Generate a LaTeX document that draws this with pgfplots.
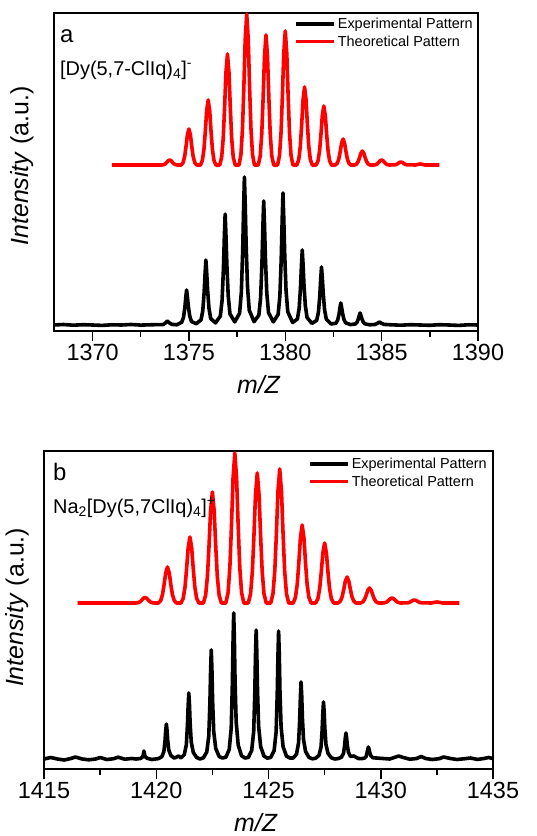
\documentclass[border=0pt]{standalone}
\usepackage{fontspec}
\setmainfont{Liberation Sans}
\usepackage{pgfplots}
\pgfplotsset{compat=1.18}

\definecolor{thred}{RGB}{255,0,0}

\pgfplotsset{
  msplot/.style={
    scale only axis,
    ymin=0, ymax=318,
    ytick=\empty,
    tick align=outside,
    xtick pos=left,
    major tick length=10bp,
    minor tick length=6bp,
    every tick/.style={black, line width=1.5bp},
    axis line style={line width=1.8bp},
    /pgf/number format/assume math mode=true,
    /pgf/number format/1000 sep={},
    tick label style={font=\fontsize{23.5}{28}\selectfont},
    label style={font=\fontsize{25}{30}\selectfont},
    xlabel={\textit{m/Z}},
    ylabel={\textit{Intensity} (a.u.)},
    legend cell align=left,
    legend image code/.code={\draw[#1] (0bp,0bp) -- (38bp,0bp);},
    legend style={draw=none, fill=none, inner sep=0pt,
      font=\fontsize{14.5}{17}\selectfont, anchor=north east,
      nodes={inner sep=2.5bp}, row sep=0.5bp},
  },
  exp/.style={black, line width=3.6bp, line join=round},
  theo/.style={thred, line width=3.6bp, line join=round},
}

\begin{document}
\begin{tikzpicture}
\useasboundingbox (0,0) rectangle (537bp,836bp);

% ---------- panel a ----------
\begin{axis}[msplot,
    at={(54bp,505bp)}, anchor=south west,
    width=424bp, height=318bp,
    xmin=1368, xmax=1390,
    xtick={1370,1375,1380,1385,1390},
    minor xtick={1372.5,1377.5,1382.5,1387.5},
    xlabel style={at={(axis description cs:0.483,-0.167)}, anchor=center},
    ylabel style={at={(axis description cs:-0.0755,0.519)}, anchor=center},
    legend style={at={(axis description cs:0.994,0.992)}},
  ]
\addplot[exp] coordinates {
 (1368,6) (1368.5,6.5) (1369,5.8) (1369.5,6.3) (1370,6) (1370.5,5.6) (1371,6.2)
 (1371.5,6) (1372,6.5) (1372.5,5.9) (1373,6.2) (1373.4,6.4)
 (1373.65,6.3) (1373.78,8) (1373.88,10) (1373.98,8.2) (1374.12,6.6) (1374.38,6.2)
 (1374.63,8.8) (1374.72,13.7) (1374.79,23.5) (1374.84,34) (1374.88,41) (1374.92,34.7) (1374.97,24.9) (1375.04,15.1) (1375.13,9.5)
 (1375.38,7.2)
 (1375.63,11.2) (1375.72,20.3) (1375.79,38.5) (1375.84,58) (1375.88,71) (1375.92,59.3) (1375.97,41.1) (1376.04,22.9) (1376.13,12.5)
 (1376.38,8.1)
 (1376.63,14.9) (1376.72,30.4) (1376.79,61.5) (1376.84,94.8) (1376.88,117) (1376.92,97) (1376.97,65.9) (1377.04,34.9) (1377.13,17.1)
 (1377.38,9.1)
 (1377.63,17.8) (1377.72,38.6) (1377.79,80) (1377.84,124.4) (1377.88,154) (1377.92,127.4) (1377.97,85.9) (1378.04,44.5) (1378.13,20.8)
 (1378.38,9.3)
 (1378.63,15.9) (1378.72,33.3) (1378.79,68) (1378.84,105.2) (1378.88,130) (1378.92,107.7) (1378.97,73) (1379.04,38.2) (1379.13,18.4)
 (1379.38,9.1)
 (1379.63,16.6) (1379.72,35) (1379.79,72) (1379.84,111.6) (1379.88,138) (1379.92,114.2) (1379.97,77.3) (1380.04,40.3) (1380.13,19.2)
 (1380.38,8.5)
 (1380.63,12) (1380.72,22.5) (1380.79,43.5) (1380.84,66) (1380.88,81) (1380.92,67.5) (1380.97,46.5) (1381.04,25.5) (1381.13,13.5)
 (1381.38,7.6)
 (1381.63,10.6) (1381.72,18.8) (1381.79,35) (1381.84,52.4) (1381.88,64) (1381.92,53.6) (1381.97,37.3) (1382.04,21.1) (1382.13,11.8)
 (1382.38,7)
 (1382.63,7.8) (1382.72,10.8) (1382.79,17) (1382.84,23.6) (1382.88,28) (1382.92,24) (1382.97,17.9) (1383.04,11.7) (1383.13,8.2)
 (1383.38,6.4)
 (1383.63,7) (1383.72,8.6) (1383.79,12) (1383.84,15.6) (1383.88,18) (1383.92,15.8) (1383.97,12.5) (1384.04,9.1) (1384.13,7.2)
 (1384.38,6.2)
 (1384.65,6.5) (1384.78,7.6) (1384.88,9) (1384.98,7.8) (1385.12,6.6)
 (1385.5,6.2) (1386,5.8) (1386.5,6.3) (1387,6) (1387.5,5.7) (1388,6.3) (1388.5,6)
 (1389,5.6) (1389.5,6.2) (1390,6)
};
\addlegendentry{Experimental Pattern}
\addplot[theo] coordinates {
 (1371,166) (1373.6,166)
 (1373.7,166.4) (1373.78,167.2) (1373.85,168.6) (1373.92,170.2) (1374,171) (1374.08,170.2) (1374.15,168.6) (1374.22,167.2) (1374.3,166.4) (1374.4,166)
 (1374.6,166) (1374.7,168.5) (1374.78,174.6) (1374.85,184.4) (1374.92,195.9) (1375,202) (1375.08,195.9) (1375.15,184.4) (1375.22,174.6) (1375.3,168.5) (1375.4,166)
 (1375.6,166) (1375.7,170.6) (1375.78,181.6) (1375.85,199.2) (1375.92,220) (1376,231) (1376.08,220) (1376.15,199.2) (1376.22,181.6) (1376.3,170.6) (1376.4,166)
 (1376.6,166) (1376.7,173.8) (1376.78,192.6) (1376.85,222.6) (1376.92,258.1) (1377,277) (1377.08,258.1) (1377.15,222.6) (1377.22,192.6) (1377.3,173.8) (1377.4,166)
 (1377.6,166) (1377.7,176.6) (1377.78,202.2) (1377.85,243) (1377.92,291.3) (1378,317) (1378.08,291.3) (1378.15,243) (1378.22,202.2) (1378.3,176.6) (1378.4,166)
 (1378.6,166) (1378.7,175.1) (1378.78,197.2) (1378.85,232.3) (1378.92,273.9) (1379,296) (1379.08,273.9) (1379.15,232.3) (1379.22,197.2) (1379.3,175.1) (1379.4,166)
 (1379.6,166) (1379.7,175.4) (1379.78,198.2) (1379.85,234.3) (1379.92,277.2) (1380,300) (1380.08,277.2) (1380.15,234.3) (1380.22,198.2) (1380.3,175.4) (1380.4,166)
 (1380.6,166) (1380.7,171.5) (1380.78,184.7) (1380.85,205.8) (1380.92,230.7) (1381,244) (1381.08,230.7) (1381.15,205.8) (1381.22,184.7) (1381.3,171.5) (1381.4,166)
 (1381.6,166) (1381.7,170.1) (1381.78,180.2) (1381.85,196.1) (1381.92,215) (1382,225) (1382.08,215) (1382.15,196.1) (1382.22,180.2) (1382.3,170.1) (1382.4,166)
 (1382.6,166) (1382.7,167.8) (1382.78,172.2) (1382.85,179.3) (1382.92,187.6) (1383,192) (1383.08,187.6) (1383.15,179.3) (1383.22,172.2) (1383.3,167.8) (1383.4,166)
 (1383.6,166) (1383.7,167) (1383.78,169.4) (1383.85,173.1) (1383.92,177.6) (1384,180) (1384.08,177.6) (1384.15,173.1) (1384.22,169.4) (1384.3,167) (1384.4,166)
 (1384.6,166) (1384.7,166.4) (1384.78,167.2) (1384.85,168.6) (1384.92,170.2) (1385,171) (1385.08,170.2) (1385.15,168.6) (1385.22,167.2) (1385.3,166.4) (1385.4,166)
 (1385.7,166.2) (1385.78,166.7) (1385.85,167.5) (1385.92,168.5) (1386,169) (1386.08,168.5) (1386.15,167.5) (1386.22,166.7) (1386.3,166.2)
 (1386.75,166) (1386.88,166.6) (1387,167) (1387.12,166.6) (1387.25,166)
 (1388,166)
};
\addlegendentry{Theoretical Pattern}
\node[anchor=base west, inner sep=0pt, font=\fontsize{24}{28}\selectfont]
  at (rel axis cs:0.014,0.906) {a};
\node[anchor=base west, inner sep=0pt, font=\fontsize{20}{24}\selectfont]
  at (rel axis cs:0.014,0.805) {[Dy(5,7-ClIq)\textsubscript{4}]\textsuperscript{-}};
\end{axis}

% ---------- panel b ----------
\begin{axis}[msplot,
    at={(44bp,67bp)}, anchor=south west,
    width=449bp, height=318bp,
    xmin=1415, xmax=1435,
    xtick={1415,1420,1425,1430,1435},
    minor xtick={1417.5,1422.5,1427.5,1432.5},
    xlabel style={at={(axis description cs:0.472,-0.17)}, anchor=center},
    ylabel style={at={(axis description cs:-0.060,0.508)}, anchor=center},
    legend style={at={(axis description cs:0.992,0.986)}},
  ]
\addplot[exp] coordinates {
 (1415,10) (1415.3,11.5) (1415.6,10) (1415.9,9) (1416.2,10.5) (1416.4,12) (1416.7,10)
 (1417,9.2) (1417.3,10) (1417.5,11.5) (1417.8,9.5) (1418.1,10.3) (1418.3,11.8)
 (1418.6,9.8) (1418.9,10.5) (1419.1,10)
 (1419.3,10.5) (1419.39,12) (1419.42,14) (1419.45,18) (1419.48,14.5) (1419.51,12.2) (1419.6,10.7)
 (1419.8,9.5) (1420.10,10.4)
 (1420.25,12.3) (1420.34,17.5) (1420.39,28) (1420.42,38) (1420.45,45) (1420.48,38.7) (1420.51,28.7) (1420.56,18.8) (1420.65,13.5) (1420.80,10.9)
 (1421.0,13) (1421.1,11)
 (1421.25,14.4) (1421.34,24.2) (1421.39,44) (1421.42,62.8) (1421.45,76) (1421.48,64.1) (1421.51,45.3) (1421.56,26.8) (1421.65,16.5) (1421.80,11.5)
 (1421.95,10) (1422.10,11.2)
 (1422.25,17) (1422.34,33) (1422.39,66) (1422.42,97.2) (1422.45,119) (1422.48,99.4) (1422.51,68.2) (1422.56,37.5) (1422.65,20.5) (1422.80,12.5)
 (1422.95,11) (1423.10,11.8)
 (1423.25,19.5) (1423.34,41) (1423.39,85) (1423.42,126.8) (1423.45,156) (1423.48,129.7) (1423.51,88) (1423.56,47) (1423.65,24) (1423.80,13.2)
 (1423.95,11) (1424.10,11.6)
 (1424.25,18.4) (1424.34,37.3) (1424.39,76.3) (1424.42,113.2) (1424.45,139) (1424.48,115.8) (1424.51,78.9) (1424.56,42.8) (1424.65,22.4) (1424.80,12.9)
 (1424.95,10.8) (1425.10,11.6)
 (1425.25,18.3) (1425.34,37.1) (1425.39,75.8) (1425.42,112.4) (1425.45,138) (1425.48,115) (1425.51,78.4) (1425.56,42.5) (1425.65,22.3) (1425.80,12.9)
 (1425.95,11) (1426.10,11)
 (1426.25,15) (1426.34,26.3) (1426.39,49.6) (1426.42,71.6) (1426.45,87) (1426.48,73.1) (1426.51,51.1) (1426.56,29.6) (1426.65,17.6) (1426.80,11.7)
 (1426.95,10.2) (1427.10,10.8)
 (1427.25,13.7) (1427.34,22) (1427.39,39.3) (1427.42,55.6) (1427.45,67) (1427.48,56.7) (1427.51,40.4) (1427.56,24.5) (1427.65,15.6) (1427.80,11.2)
 (1427.95,10) (1428.10,10.4)
 (1428.25,11.8) (1428.34,15.6) (1428.39,23.5) (1428.42,30.8) (1428.45,36) (1428.48,31.3) (1428.51,24) (1428.56,16.8) (1428.65,12.6)
 (1428.8,13) (1429.0,10.5) (1429.15,10.4)
 (1429.27,10.8) (1429.35,12.6) (1429.39,16.2) (1429.42,19.6) (1429.45,22) (1429.48,19.8) (1429.51,16.5) (1429.56,13.2) (1429.65,11.2)
 (1429.8,11) (1430.1,10.5) (1430.4,10) (1430.6,11.5) (1430.8,13) (1431.0,11.5) (1431.3,9.8)
 (1431.6,10.5) (1431.8,12.5) (1432,10.5) (1432.3,9.5) (1432.6,10.3) (1432.8,12) (1433.1,10.5)
 (1433.4,9.5) (1433.7,10.2) (1434,11) (1434.3,9.6) (1434.6,10.5) (1434.8,11.5) (1435,10.5)
};
\addlegendentry{Experimental Pattern}
\addplot[theo] coordinates {
 (1416.5,166) (1419.1,166)
 (1419.2,166.4) (1419.28,167.3) (1419.35,168.8) (1419.42,170.6) (1419.5,171.5) (1419.58,170.6) (1419.65,168.8) (1419.72,167.3) (1419.8,166.4) (1419.9,166)
 (1420.1,166) (1420.2,168.5) (1420.28,174.6) (1420.35,184.4) (1420.42,195.9) (1420.5,202) (1420.58,195.9) (1420.65,184.4) (1420.72,174.6) (1420.8,168.5) (1420.9,166)
 (1421.1,166) (1421.2,170.6) (1421.28,181.8) (1421.35,199.7) (1421.42,220.8) (1421.5,232) (1421.58,220.8) (1421.65,199.7) (1421.72,181.8) (1421.8,170.6) (1421.9,166)
 (1422.1,166) (1422.2,173.8) (1422.28,192.6) (1422.35,222.6) (1422.42,258.1) (1422.5,277) (1422.58,258.1) (1422.65,222.6) (1422.72,192.6) (1422.8,173.8) (1422.9,166)
 (1423.1,166) (1423.2,176.5) (1423.28,202) (1423.35,242.5) (1423.42,290.5) (1423.5,316) (1423.58,290.5) (1423.65,242.5) (1423.72,202) (1423.8,176.5) (1423.9,166)
 (1424.1,166) (1424.2,175.1) (1424.28,197.2) (1424.35,232.3) (1424.42,273.9) (1424.5,296) (1424.58,273.9) (1424.65,232.3) (1424.72,197.2) (1424.8,175.1) (1424.9,166)
 (1425.1,166) (1425.2,175.4) (1425.28,198.2) (1425.35,234.3) (1425.42,277.2) (1425.5,300) (1425.58,277.2) (1425.65,234.3) (1425.72,198.2) (1425.8,175.4) (1425.9,166)
 (1426.1,166) (1426.2,171.5) (1426.28,184.7) (1426.35,205.8) (1426.42,230.7) (1426.5,244) (1426.58,230.7) (1426.65,205.8) (1426.72,184.7) (1426.8,171.5) (1426.9,166)
 (1427.1,166) (1427.2,170.2) (1427.28,180.4) (1427.35,196.6) (1427.42,215.8) (1427.5,226) (1427.58,215.8) (1427.65,196.6) (1427.72,180.4) (1427.8,170.2) (1427.9,166)
 (1428.1,166) (1428.2,167.8) (1428.28,172.2) (1428.35,179.3) (1428.42,187.6) (1428.5,192) (1428.58,187.6) (1428.65,179.3) (1428.72,172.2) (1428.8,167.8) (1428.9,166)
 (1429.1,166) (1429.2,167.1) (1429.28,169.6) (1429.35,173.7) (1429.42,178.5) (1429.5,181) (1429.58,178.5) (1429.65,173.7) (1429.72,169.6) (1429.8,167.1) (1429.9,166)
 (1430.1,166) (1430.2,166.4) (1430.28,167.2) (1430.35,168.6) (1430.42,170.2) (1430.5,171) (1430.58,170.2) (1430.65,168.6) (1430.72,167.2) (1430.8,166.4) (1430.9,166)
 (1431.2,166.2) (1431.28,166.7) (1431.35,167.5) (1431.42,168.5) (1431.5,169) (1431.58,168.5) (1431.65,167.5) (1431.72,166.7) (1431.8,166.2)
 (1432.25,166) (1432.38,166.6) (1432.5,167) (1432.62,166.6) (1432.75,166)
 (1433.5,166)
};
\addlegendentry{Theoretical Pattern}
\node[anchor=base west, inner sep=0pt, font=\fontsize{24}{28}\selectfont]
  at (rel axis cs:0.02,0.906) {b};
\node[anchor=base west, inner sep=0pt, font=\fontsize{20}{24}\selectfont]
  at (rel axis cs:0.02,0.805) {Na\textsubscript{2}[Dy(5,7ClIq)\textsubscript{4}]\textsuperscript{+}};
\end{axis}
\end{tikzpicture}
\end{document}
